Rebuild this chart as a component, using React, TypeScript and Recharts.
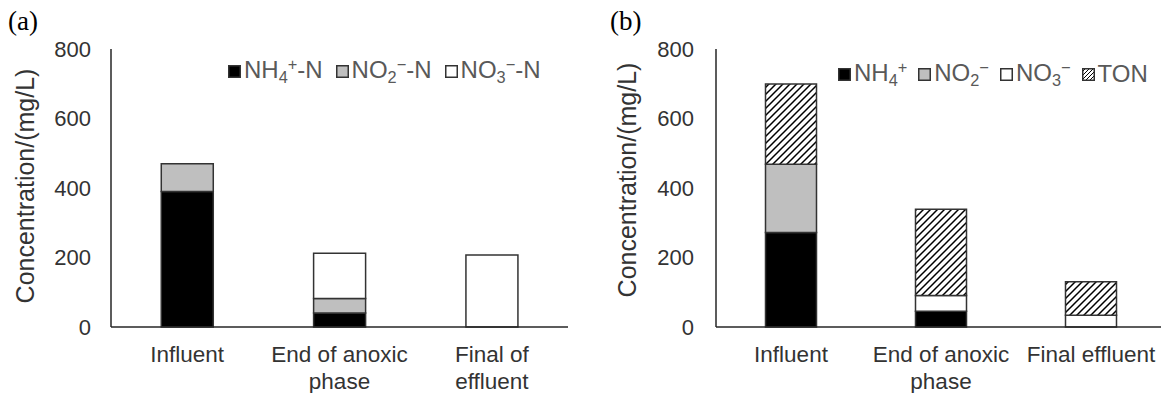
import React from 'react';
import { BarChart, Bar, XAxis, YAxis } from 'recharts';

// ---------- Data ----------
const categoriesA = ['Influent', 'End of anoxic phase', 'Final of effluent'];
const tickLinesA = [['Influent'], ['End of anoxic', 'phase'], ['Final of', 'effluent']];
const nh4A = [390, 40, 0];
const no2A = [80, 42, 0];
const no3A = [0, 130, 207];

const categoriesB = ['Influent', 'End of anoxic phase', 'Final effluent'];
const tickLinesB = [['Influent'], ['End of anoxic', 'phase'], ['Final effluent']];
const nh4B = [272, 45, 0];
const no2B = [196, 0, 0];
const no3B = [0, 46, 34];
const tonB = [231, 248, 96];

const yTicks = [0, 200, 400, 600, 800];
const yTitle = 'Concentration/(mg/L)';

const dataA = categoriesA.map((c, i) => ({ cat: c, nh4: nh4A[i], no2: no2A[i], no3: no3A[i] }));
const dataB = categoriesB.map((c, i) => ({ cat: c, nh4: nh4B[i], no2: no2B[i], no3: no3B[i], ton: tonB[i] }));

// ---------- Styles ----------
const SANS = '"Liberation Sans", Arial, sans-serif';
const AXIS = '#262626';
const BAR_STROKE = '#333333';
const C_NH4 = '#000000';
const C_NO2 = '#bfbfbf';
const C_NO3 = '#ffffff';

const makeTick = (lines: string[][]) => (props: any) => {
  const { x, y, index } = props;
  const ls = lines[index] || [];
  return (
    <text x={x} y={y} textAnchor="middle" fill="#333" fontSize={22.5} fontFamily={SANS}>
      {ls.map((l, i) => (
        <tspan key={i} x={x} dy={i === 0 ? 33 : 26.5}>{l}</tspan>
      ))}
    </text>
  );
};

const makeYTitle = (cx: number, cy: number) => () => (
  <text
    x={cx}
    y={cy}
    transform={`rotate(-90, ${cx}, ${cy})`}
    textAnchor="middle"
    dominantBaseline="central"
    fill="#333"
    fontSize={25}
    fontFamily={SANS}
  >
    {yTitle}
  </text>
);

const HatchDefs = ({ id }: { id: string }) => (
  <defs>
    <pattern id={id} patternUnits="userSpaceOnUse" width={7} height={7}>
      <rect width={7} height={7} fill="#fff" />
      <path d="M-1,1 l2,-2 M0,7 l7,-7 M6,8 l2,-2" stroke="#000" strokeWidth={1.5} />
    </pattern>
  </defs>
);

const Swatch = ({ fill, hatch }: { fill: string; hatch?: boolean }) => (
  <svg width={13} height={13} style={{ display: 'block', flex: 'none' }}>
    {hatch && (
      <defs>
        <pattern id="hatchLegend" patternUnits="userSpaceOnUse" width={4} height={4}>
          <rect width={4} height={4} fill="#fff" />
          <path d="M-1,1 l2,-2 M0,4 l4,-4 M3,5 l2,-2" stroke="#000" strokeWidth={1} />
        </pattern>
      </defs>
    )}
    <rect x={0.75} y={0.75} width={11.5} height={11.5} fill={hatch ? 'url(#hatchLegend)' : fill} stroke="#333" strokeWidth={1.5} />
  </svg>
);

const Formula = ({ base, sub, sup, tail }: { base: string; sub?: string; sup?: string; tail?: string }) => (
  <span style={{ whiteSpace: 'nowrap' }}>
    {base}
    {sub && <span style={{ fontSize: '0.68em', position: 'relative', top: '0.32em' }}>{sub}</span>}
    {sup && <span style={{ fontSize: '0.68em', position: 'relative', top: '-0.5em' }}>{sup}</span>}
    {tail}
  </span>
);

const legendA = [
  { fill: C_NH4, base: 'NH', sub: '4', sup: '+', tail: '-N' },
  { fill: C_NO2, base: 'NO', sub: '2', sup: '\u2212', tail: '-N' },
  { fill: C_NO3, base: 'NO', sub: '3', sup: '\u2212', tail: '-N' },
];
const legendB = [
  { fill: C_NH4, base: 'NH', sub: '4', sup: '+', tail: '' },
  { fill: C_NO2, base: 'NO', sub: '2', sup: '\u2212', tail: '' },
  { fill: C_NO3, base: 'NO', sub: '3', sup: '\u2212', tail: '' },
  { fill: 'hatch', base: 'TON', sub: '', sup: '', tail: '' },
];

const Legend = ({ items, left, top, gap }: any) => (
  <div
    style={{
      position: 'absolute',
      left,
      top,
      height: 24,
      display: 'flex',
      alignItems: 'center',
      fontFamily: SANS,
      fontSize: 24,
      lineHeight: '24px',
      color: '#595959',
    }}
  >
    {items.map((it: any, i: number) => (
      <div key={i} style={{ display: 'flex', alignItems: 'center', marginRight: gap }}>
        <Swatch fill={it.fill} hatch={it.fill === 'hatch'} />
        <span style={{ marginLeft: 3 }}>
          <Formula base={it.base} sub={it.sub || undefined} sup={it.sup || undefined} tail={it.tail} />
        </span>
      </div>
    ))}
  </div>
);

const tickStyle = { fill: '#333', fontSize: 22, fontFamily: SANS };

export default function App() {
  return (
    <div
      style={{
        position: 'absolute',
        left: 0,
        top: 0,
        width: 1161,
        height: 393,
        overflow: 'hidden',
        background: '#fff',
      }}
    >
      <div style={{ position: 'absolute', left: 0, top: 0 }}>
        <BarChart width={580} height={393} data={dataA} margin={{ top: 49, right: 12, bottom: 0, left: 0 }} barCategoryGap="33%">
          <XAxis
            dataKey="cat"
            height={66}
            axisLine={{ stroke: AXIS, strokeWidth: 1.5 }}
            tickLine={false}
            tickSize={0}
            tick={makeTick(tickLinesA)}
            interval={0}
          />
          <XAxis xAxisId="top" dataKey="cat" orientation="top" height={0} axisLine={{ stroke: AXIS, strokeWidth: 1.5 }} tick={false} tickLine={false} />
          <YAxis
            width={111}
            domain={[0, 800]}
            ticks={yTicks}
            axisLine={{ stroke: AXIS, strokeWidth: 1.5 }}
            tickLine={false}
            tickSize={0}
            tickMargin={20}
            tick={tickStyle}
            label={makeYTitle(25, 186)}
          />
          <YAxis yAxisId="right" orientation="right" width={0} domain={[0, 800]} axisLine={{ stroke: AXIS, strokeWidth: 1.5 }} tick={false} tickLine={false} />
          <Bar dataKey="nh4" stackId="s" fill={C_NH4} stroke={BAR_STROKE} strokeWidth={1.5} isAnimationActive={false} />
          <Bar dataKey="no2" stackId="s" fill={C_NO2} stroke={BAR_STROKE} strokeWidth={1.5} isAnimationActive={false} />
          <Bar dataKey="no3" stackId="s" fill={C_NO3} stroke={BAR_STROKE} strokeWidth={1.5} isAnimationActive={false} />
        </BarChart>
      </div>

      <div style={{ position: 'absolute', left: 580, top: 0 }}>
        <BarChart width={590} height={393} data={dataB} margin={{ top: 49, right: 4, bottom: 0, left: 0 }} barCategoryGap="33%">
          <HatchDefs id="hatchTON" />
          <XAxis
            dataKey="cat"
            height={66}
            axisLine={{ stroke: AXIS, strokeWidth: 1.5 }}
            tickLine={false}
            tickSize={0}
            tick={makeTick(tickLinesB)}
            interval={0}
          />
          <XAxis xAxisId="top" dataKey="cat" orientation="top" height={0} axisLine={{ stroke: AXIS, strokeWidth: 1.5 }} tick={false} tickLine={false} />
          <YAxis
            width={136}
            domain={[0, 800]}
            ticks={yTicks}
            axisLine={{ stroke: AXIS, strokeWidth: 1.5 }}
            tickLine={false}
            tickSize={0}
            tickMargin={22}
            tick={tickStyle}
            label={makeYTitle(47, 180)}
          />
          <YAxis yAxisId="right" orientation="right" width={0} domain={[0, 800]} axisLine={{ stroke: AXIS, strokeWidth: 1.5 }} tick={false} tickLine={false} />
          <Bar dataKey="nh4" stackId="s" fill={C_NH4} stroke={BAR_STROKE} strokeWidth={1.5} isAnimationActive={false} />
          <Bar dataKey="no2" stackId="s" fill={C_NO2} stroke={BAR_STROKE} strokeWidth={1.5} isAnimationActive={false} />
          <Bar dataKey="no3" stackId="s" fill={C_NO3} stroke={BAR_STROKE} strokeWidth={1.5} isAnimationActive={false} />
          <Bar dataKey="ton" stackId="s" fill="url(#hatchTON)" stroke={BAR_STROKE} strokeWidth={1.5} isAnimationActive={false} />
        </BarChart>
      </div>

      <Legend items={legendA} left={228} top={59} gap={13} />
      <Legend items={legendB} left={838} top={62} gap={11} />

      <div style={{ position: 'absolute', left: 8, top: 8, fontFamily: '"Liberation Serif", "Times New Roman", serif', fontSize: 27, lineHeight: '27px', color: '#000' }}>(a)</div>
      <div style={{ position: 'absolute', left: 610, top: 8, fontFamily: '"Liberation Serif", "Times New Roman", serif', fontSize: 27, lineHeight: '27px', color: '#000' }}>(b)</div>
    </div>
  );
}
